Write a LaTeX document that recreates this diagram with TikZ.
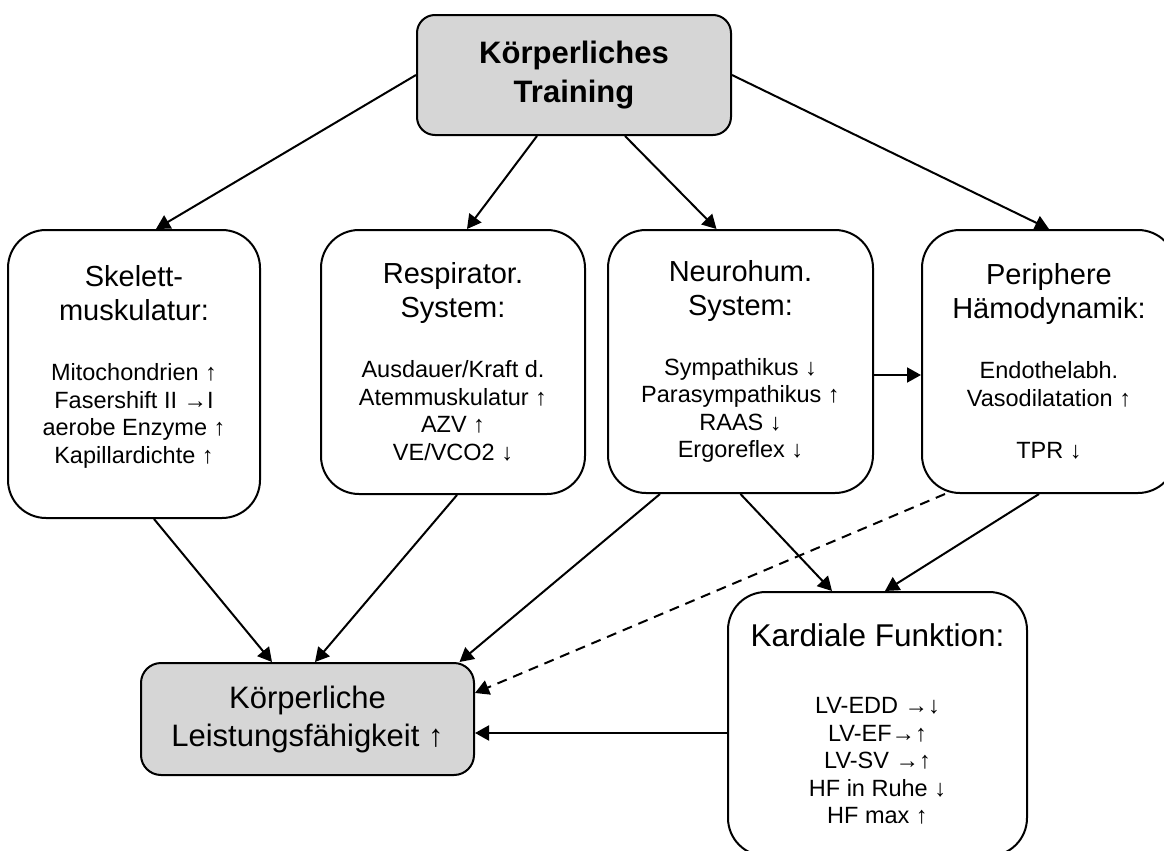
\documentclass[tikz,border=0pt]{standalone}
\usepackage{fontspec}
\setmainfont{Liberation Sans}
\usetikzlibrary{arrows.meta,positioning}
\definecolor{ink}{HTML}{000000}
\definecolor{shade}{HTML}{D6D6D6}
\newcommand{\headline}[1]{{\fontsize{14.5}{17}\selectfont #1}}
\tikzset{
  box/.style={draw=ink, fill=white, line width=1pt, rounded corners=19pt, align=center,
              inner sep=0pt, font=\fontsize{11.75}{13.75}\selectfont},
  graybox/.style={box, fill=shade, rounded corners=9pt},
  ar/.style={-{Triangle[length=7pt,width=7.5pt]}, line width=1pt, draw=ink},
  ardash/.style={ar, dash pattern=on 5pt off 3.5pt}
}

\begin{document}
\begin{tikzpicture}[x=0.5pt,y=-0.5pt]
  \useasboundingbox (0,0) rectangle (1164,851);
  \node[graybox, minimum width=157pt, minimum height=60pt, font=\fontsize{15.5}{19.5}\selectfont\bfseries]
    (train) at (574,75) {Körperliches\\Training};
  \node[box, minimum width=126pt, minimum height=144pt] (skel) at (134,374)
    {\headline{Skelett-}\\[3.25pt]\headline{muskulatur:}\\[16.25pt]
     Mitochondrien ↑\\Fasershift II →I\\aerobe Enzyme ↑\\Kapillardichte ↑\\[-4pt]\mbox{}};
  \node[box, minimum width=132pt, minimum height=132pt] (resp) at (453,362)
    {\headline{Respirator.}\\[3.25pt]\headline{System:}\\[16.25pt]
     Ausdauer/Kraft d.\\Atemmuskulatur ↑\\AZV ↑\\VE/VCO2 ↓};
  \node[box, minimum width=132.5pt, minimum height=131.5pt] (neuro) at (740.5,361.5)
    {\headline{Neurohum.}\\[3.25pt]\headline{System:}\\[16.25pt]
     Sympathikus ↓\\Parasympathikus ↑\\RAAS ↓\\Ergoreflex ↓};
  \node[box, minimum width=127pt, minimum height=131.5pt] (peri) at (1049,361.5)
    {\headline{Periphere}\\[3.25pt]\headline{Hämodynamik:}\\[16.25pt]
     Endothelabh.\\Vasodilatation ↑\\[12.5pt]TPR ↓};
  \node[box, minimum width=149.5pt, minimum height=132pt] (kard) at (877.5,724)
    {{\fontsize{15.75}{17}\selectfont Kardiale Funktion:}\\[20pt]
     LV-EDD →↓\\LV-EF→↑\\LV-SV →↑\\HF in Ruhe ↓\\HF max ↑};
  \node[graybox, rounded corners=10pt, minimum width=166.5pt, minimum height=56pt,
        font=\fontsize{15.5}{19}\selectfont] (leist) at (307.5,719)
    {Körperliche\\Leistungsfähigkeit ↑};

  \draw[ar] (train.west) -- ([xshift=11pt]skel.north);
  \draw[ar] ([xshift=-18.5pt]train.south) -- ([xshift=7pt]resp.north);
  \draw[ar] ([xshift=25.5pt]train.south) -- ([xshift=-12pt]neuro.north);
  \draw[ar] (train.east) -- (peri.north);
  \coordinate (nx) at ([yshift=-6.75pt]neuro.east);
  \draw[ar] (nx) -- (nx -| peri.west);
  \draw[ar] ([xshift=10pt]skel.south) -- ([xshift=-17.75pt]leist.north);
  \draw[ar] ([xshift=2pt]resp.south) -- ([xshift=3.75pt]leist.north);
  \draw[ar] ([xshift=-40.25pt]neuro.south) -- ([xshift=76pt]leist.north);
  \draw[ardash] ([xshift=-52pt]peri.south) -- ([yshift=13pt]leist.east);
  \draw[ar] (neuro.south) -- ([xshift=-22.75pt]kard.north);
  \draw[ar] ([xshift=-5pt]peri.south) -- ([xshift=3.75pt]kard.north);
  \coordinate (kx) at ([yshift=-4.5pt]kard.west);
  \draw[ar] (kx) -- (kx -| leist.east);
\end{tikzpicture}
\end{document}
